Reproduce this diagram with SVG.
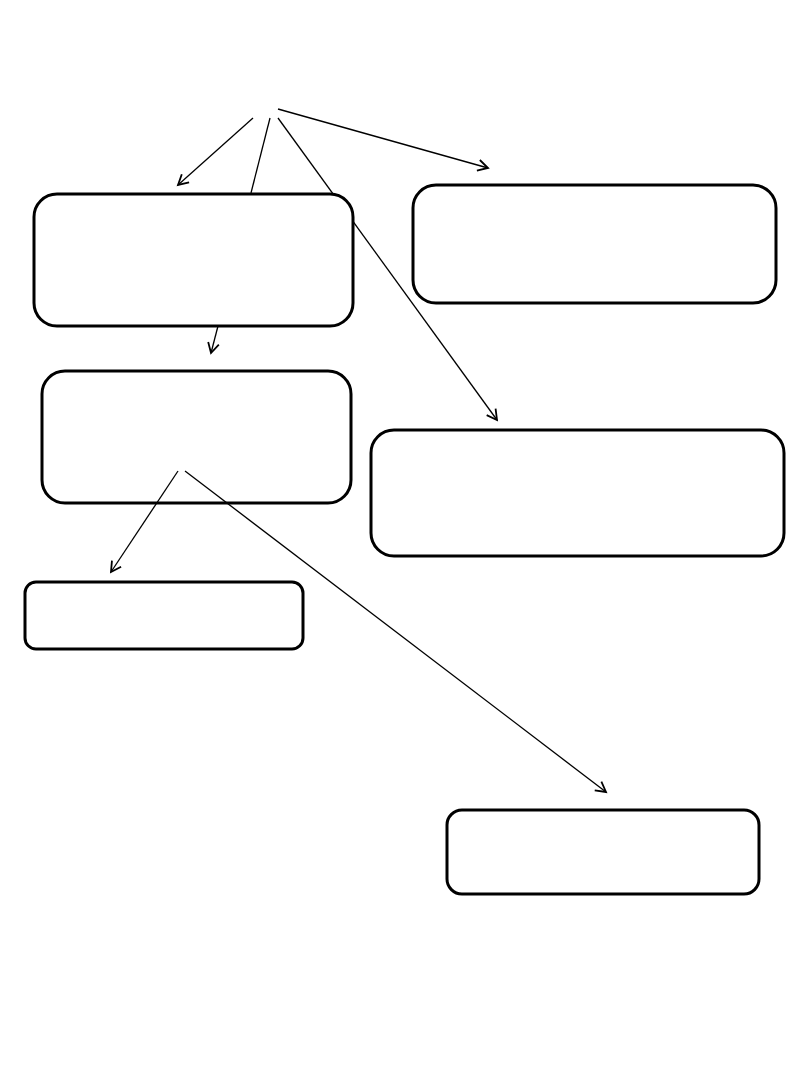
<svg xmlns="http://www.w3.org/2000/svg" width="810" height="1080" viewBox="0 0 810 1080">
<style>
.node{fill:none;stroke:#000;stroke-width:3}
.filled{fill:#fff}
.edge{fill:none;stroke:#000;stroke-width:1.3}
.arr{marker-end:url(#ah)}
</style>
<defs>
<marker id="ah" markerUnits="userSpaceOnUse" markerWidth="14" markerHeight="14" refX="11" refY="6" orient="auto" viewBox="0 0 14 12">
<path d="M1,0.5 L11,6 L1,11.5" fill="none" stroke="#000" stroke-width="1.8"/>
</marker>
</defs>
<rect width="810" height="1080" fill="#fff"/>
<g id="connectors">
<line class="edge arr" x1="253" y1="118" x2="178" y2="185"/>
<line class="edge" x1="270" y1="118" x2="251" y2="193"/>
<line class="edge arr" x1="278" y1="118" x2="497" y2="420"/>
<line class="edge arr" x1="278" y1="109" x2="488" y2="168"/>
<line class="edge arr" x1="218" y1="326" x2="211" y2="353"/>
<line class="edge arr" x1="178" y1="471" x2="111" y2="572"/>
<line class="edge arr" x1="185" y1="471" x2="606" y2="792"/>
</g>
<g id="node1"><rect class="node filled" x="34" y="194" width="319" height="132" rx="23"/></g>
<g id="node2"><rect class="node" x="413" y="185" width="363" height="118" rx="23"/></g>
<g id="node3"><rect class="node" x="42" y="371" width="309" height="132" rx="23"/></g>
<g id="node4"><rect class="node" x="371" y="430" width="413" height="126" rx="23"/></g>
<g id="node5"><rect class="node" x="25" y="582" width="278" height="67" rx="11"/></g>
<g id="node6"><rect class="node" x="447" y="810" width="312" height="84" rx="15"/></g>
</svg>
